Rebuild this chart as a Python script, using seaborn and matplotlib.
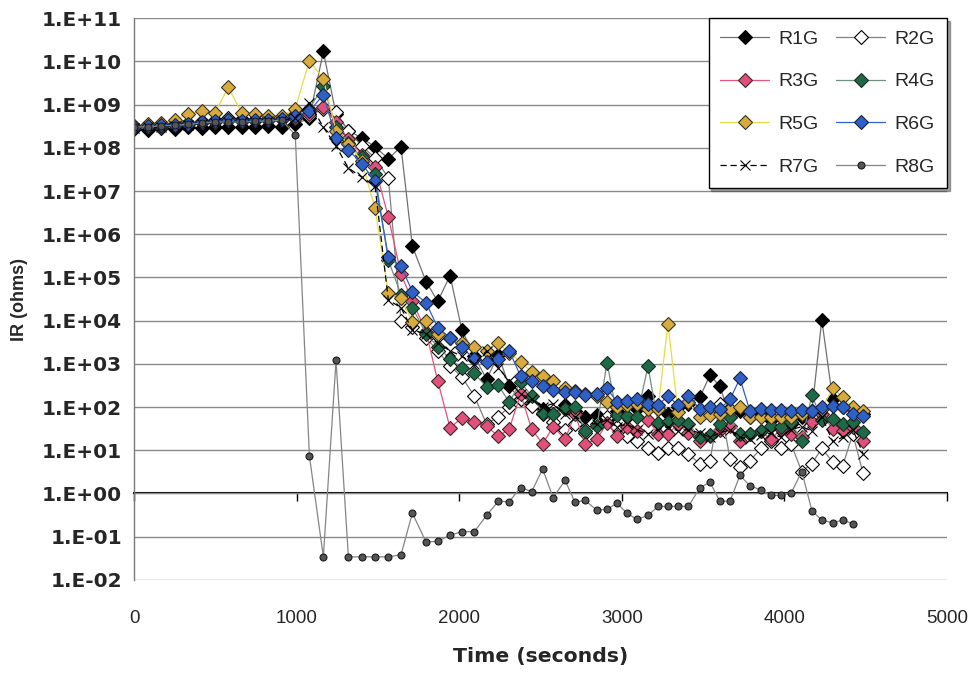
import matplotlib
matplotlib.use("Agg")
import matplotlib.pyplot as plt
import seaborn as sns
import numpy as np

sns.set_style("white")
plt.rcParams['font.family'] = ['Liberation Sans', 'DejaVu Sans']

# ---------------- data ----------------
times = [0, 83, 165, 248, 330, 413, 495, 578, 660, 743, 825, 908,
         990, 1077, 1163, 1241, 1317, 1399, 1481, 1563, 1641, 1711,
         1795, 1867, 1943, 2015, 2092, 2168, 2240, 2307, 2377, 2445,
         2513, 2577, 2651, 2712, 2774, 2847, 2909, 2970, 3032, 3093,
         3161, 3223, 3284, 3346, 3410, 3481, 3543, 3604, 3666, 3727,
         3789, 3856, 3918, 3979, 4041, 4108, 4170, 4231, 4298, 4360,
         4422, 4485]

R1G = [2.8e8, 2.6e8, 2.9e8, 2.7e8, 3.0e8, 2.9e8, 3.1e8, 3.0e8, 3.0e8, 3.1e8, 3.2e8, 3.1e8,
       3.5e8, 4.9e8, 1.7e10, 6e8, 2.5e8, 1.7e8, 1.05e8, 5.6e7, 1.05e8, 5.3e5,
       8e4, 2.8e4, 1.1e5, 6.2e3, 1.5e3, 440, 1.6e3, 300, 150, 120,
       90, 70, 110, 80, 60, 65, 50, 80, 120, 90,
       180, 90, 70, 100, 120, 170, 550, 300, 60, 80,
       60, 70, 50, 60, 40, 60, 80, 1.05e4, 150, 100,
       90, 70]

R2G = [3.2e8, 3.4e8, 3.3e8, 3.6e8, 3.8e8, 4.0e8, 4.5e8, 4.8e8, 4.6e8, 4.4e8, 4.7e8, 4.8e8,
       5.0e8, 5.5e8, 8e8, 6.6e8, 2.5e8, 1.1e8, 5.9e7, 2e7, 1e4, 7e3,
       4e3, 2e3, 900, 500, 180, 40, 60, 100, 150, 105,
       70, 45, 30, 40, 25, 40, 59, 35, 21, 16,
       11, 8.8, 11, 11, 8, 4.9, 5.7, 120, 6.4, 4,
       5.7, 11, 16, 11, 14, 3.2, 4.9, 11, 5.4, 4.4,
       24, 2.9]

R3G = [3.0e8, 3.2e8, 3.1e8, 3.4e8, 3.5e8, 3.9e8, 4.0e8, 4.3e8, 4.1e8, 4.3e8, 4.5e8, 4.6e8,
       5.0e8, 6.0e8, 9e8, 4e8, 1.6e8, 7e7, 3.6e7, 2.5e6, 1.2e5, 2.8e4,
       5.6e3, 400, 33, 56, 45, 36, 21, 31, 200, 31,
       14, 35, 18, 69, 14, 18, 43, 21, 35, 28,
       50, 24, 24, 40, 25, 16, 21, 30, 36, 16,
       24, 28, 18, 31, 24, 20, 45, 69, 31, 28,
       35, 16]

R4G = [3.1e8, 3.3e8, 3.2e8, 3.5e8, 3.7e8, 4.1e8, 4.2e8, 4.5e8, 4.3e8, 4.4e8, 4.6e8, 4.7e8,
       6e8, 8e8, 2.7e9, 3e8, 1.3e8, 6e7, 2.5e7, 2.5e5, 4e4, 2e4,
       5e3, 2.5e3, 1.3e3, 800, 600, 290, 320, 130, 375, 180,
       73, 69, 90, 100, 28, 36, 1070, 66, 62, 60,
       870, 43, 45, 50, 40, 20, 23, 40, 60, 24,
       24, 28, 36, 35, 45, 16, 190, 50, 53, 40,
       45, 27]

R5G = [3.2e8, 3.5e8, 3.8e8, 4.5e8, 6.0e8, 7.0e8, 6.5e8, 2.5e9, 6.5e8, 6.0e8, 5.5e8, 5.5e8,
       8e8, 1.05e10, 3.9e9, 2.5e8, 1.2e8, 5e7, 4e6, 4.4e4, 3.3e4, 9.5e3,
       1e4, 5e3, 4e3, 3e3, 2.4e3, 2e3, 3e3, 1.8e3, 1.1e3, 650,
       520, 400, 270, 230, 200, 180, 130, 100, 110, 120,
       90, 90, 8.5e3, 76, 130, 59, 65, 70, 90, 100,
       59, 60, 60, 60, 59, 70, 80, 90, 270, 170,
       100, 80]

R6G = [3.0e8, 3.2e8, 3.3e8, 3.4e8, 3.6e8, 3.9e8, 4.1e8, 4.4e8, 4.1e8, 4.3e8, 4.5e8, 4.6e8,
       5.5e8, 7e8, 1.7e9, 1.7e8, 9e7, 4.3e7, 1.7e7, 3e5, 1.8e5, 4.7e4,
       2.6e4, 6.9e3, 4e3, 2.4e3, 1.3e3, 1.1e3, 1.3e3, 2e3, 520, 400,
       300, 250, 220, 220, 190, 200, 270, 130, 140, 150,
       117, 110, 180, 110, 180, 90, 100, 90, 150, 460,
       80, 90, 85, 85, 80, 85, 80, 100, 105, 100,
       69, 62]

R7G = [2.9e8, 3.0e8, 3.1e8, 3.2e8, 3.4e8, 3.6e8, 3.8e8, 4.0e8, 3.9e8, 4.0e8, 4.2e8, 4.3e8,
       5e8, 1.1e9, 3e8, 1.1e8, 3.4e7, 2.1e7, 1.3e7, 3e4, 2e4, 6e3,
       5e3, 3e3, 2e3, 1.5e3, 1e3, 2e3, 800, 400, 200, 150,
       100, 120, 70, 60, 45, 40, 50, 35, 40, 30,
       24, 30, 35, 28, 30, 25, 20, 25, 30, 20,
       18, 22, 25, 20, 30, 35, 28, 60, 16, 20,
       30, 8.3]

R8G = [3.0e8, 3.1e8, 3.2e8, 3.3e8, 3.5e8, 3.7e8, 3.9e8, 4.0e8, 3.9e8, 4.1e8, 4.2e8, 4.3e8,
       2e8, 7.4, 0.034, 1.2e3, 0.034, 0.034, 0.034, 0.034, 0.038, 0.35,
       0.075, 0.078, 0.108, 0.13, 0.13, 0.31, 0.66, 0.64, 1.37, 1.1,
       3.7, 0.8, 2.0, 0.62, 0.69, 0.41, 0.43, 0.59, 0.35, 0.25,
       0.31, 0.5, 0.5, 0.5, 0.5, 1.37, 1.8, 0.66, 0.66, 2.6,
       1.5, 1.2, 0.9, 0.9, 1.0, 3.2, 0.4, 0.24, 0.21, 0.24,
       0.2]

names = ["R1G", "R2G", "R3G", "R4G", "R5G", "R6G", "R7G", "R8G"]
series = [R1G, R2G, R3G, R4G, R5G, R6G, R7G, R8G]

y_ticks = [1e-2, 1e-1, 1e0, 1e1, 1e2, 1e3, 1e4, 1e5, 1e6, 1e7, 1e8, 1e9, 1e10, 1e11]
y_tick_labels = ["1.E-02", "1.E-01", "1.E+00", "1.E+01", "1.E+02", "1.E+03", "1.E+04",
                 "1.E+05", "1.E+06", "1.E+07", "1.E+08", "1.E+09", "1.E+10", "1.E+11"]
x_ticks = [0, 1000, 2000, 3000, 4000, 5000]

# ---------------- styles ----------------
styles = {
    "R1G": dict(color="#707070", marker="D", mfc="#000000", mec="#000000", ms=7, ls="-"),
    "R2G": dict(color="#808080", marker="D", mfc="#ffffff", mec="#000000", ms=7, ls="-"),
    "R3G": dict(color="#e8507e", marker="D", mfc="#e0507a", mec="#3a2a2a", ms=7, ls="-"),
    "R4G": dict(color="#6f8f7f", marker="D", mfc="#1e6a48", mec="#1a2a22", ms=7, ls="-"),
    "R5G": dict(color="#e8dc40", marker="D", mfc="#d8ac3c", mec="#3a3320", ms=7, ls="-"),
    "R6G": dict(color="#3060d0", marker="D", mfc="#2f60c4", mec="#1a2240", ms=7, ls="-"),
    "R7G": dict(color="#000000", marker="x", mfc="#000000", mec="#000000", ms=7.5, ls=(0, (5, 3))),
    "R8G": dict(color="#858585", marker="o", mfc="#555555", mec="#1a1a1a", ms=5, ls="-"),
}

fig = plt.figure(figsize=(9.74, 6.75), dpi=100)
ax = fig.add_axes([0.138, 0.141, 0.834, 0.832])

for name, vals in zip(names, series):
    s = styles[name]
    sns.lineplot(x=times[:len(vals)], y=vals, ax=ax, color=s["color"], linewidth=0.9,
                 linestyle=s["ls"], marker=s["marker"], markersize=s["ms"],
                 markerfacecolor=s["mfc"], markeredgecolor=s["mec"], markeredgewidth=0.8,
                 label=name, estimator=None, sort=False)

ax.set_yscale("log")
ax.set_ylim(1e-2, 1e11)
ax.set_xlim(0, 5000)
ax.set_yticks(y_ticks)
ax.set_yticklabels(y_tick_labels, fontsize=14.5, fontweight="bold", family="DejaVu Sans")
ax.yaxis.set_minor_locator(matplotlib.ticker.NullLocator())
ax.set_xticks(x_ticks)
ax.set_xticklabels([str(v) for v in x_ticks], fontsize=13.5)
ax.tick_params(axis="x", length=0, pad=22)
ax.tick_params(axis="y", length=6, width=1, color="#7a7a7a", direction="out", pad=3)

ax.grid(axis="y", which="major", color="#8a8a8a", linewidth=1)
ax.grid(axis="x", visible=False)
for sp in ["top", "right", "bottom"]:
    ax.spines[sp].set_visible(False)
ax.spines["left"].set_color("#7a7a7a")
ax.spines["left"].set_linewidth(1)

# x axis crossing at y = 1
sec = ax.secondary_xaxis(2 / 13)
sec.set_xticks(x_ticks)
sec.tick_params(axis="x", direction="out", length=6, width=1, color="#000000",
                labelbottom=False, labeltop=False)
sec.spines["bottom"].set_color("#000000")
sec.spines["bottom"].set_linewidth(1.5)

ax.set_xlabel("Time (seconds)", fontsize=14.7, fontweight="bold", family="DejaVu Sans",
              labelpad=14)
ax.set_ylabel("IR (ohms)", fontsize=13, fontweight="bold", labelpad=10)

handles, labels = ax.get_legend_handles_labels()
order = [0, 2, 4, 6, 1, 3, 5, 7]
leg = ax.legend([handles[i] for i in order], [labels[i] for i in order], ncol=2,
                loc="upper right", bbox_to_anchor=(1.0, 1.0), borderaxespad=0.0,
                fontsize=14, frameon=True, fancybox=False, shadow=True,
                edgecolor="#000000", framealpha=1.0, handlelength=2.5,
                columnspacing=0.9, labelspacing=1.3, borderpad=0.6, handletextpad=0.5)
leg.get_frame().set_linewidth(1.0)

fig.savefig("out.png", dpi=100)
